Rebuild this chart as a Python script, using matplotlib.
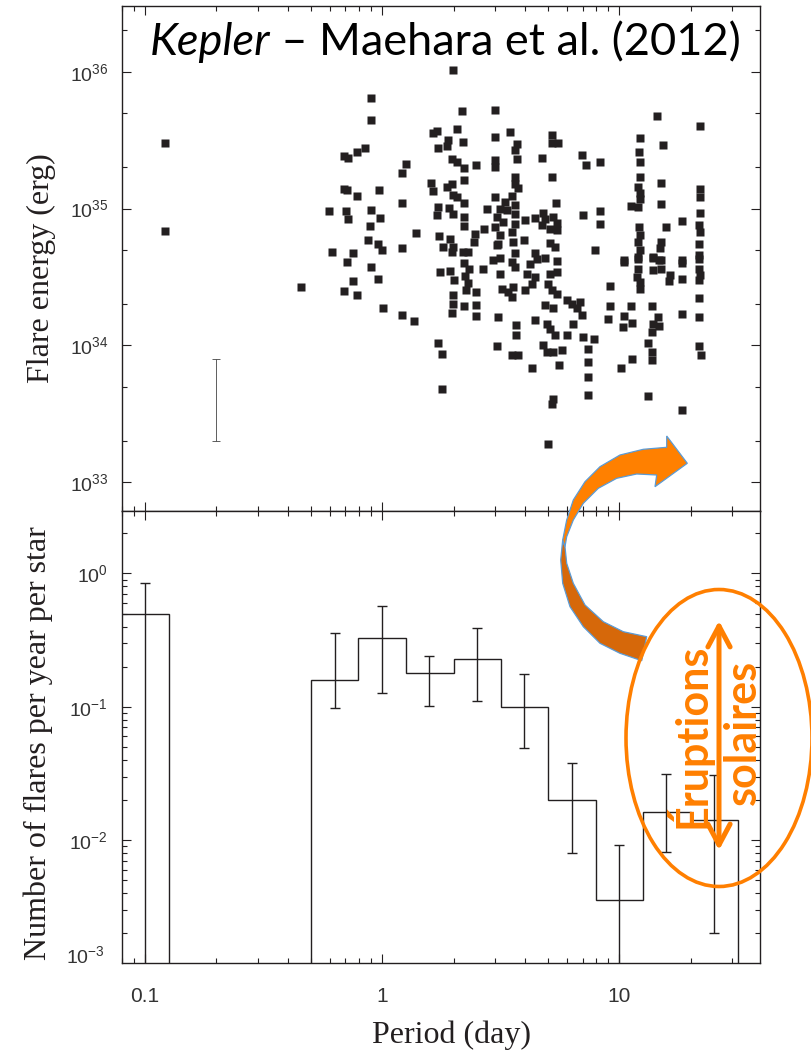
import numpy as np
import matplotlib
matplotlib.use("Agg")
import matplotlib.pyplot as plt
from matplotlib.patches import Polygon, Ellipse, FancyArrowPatch
from matplotlib.ticker import LogLocator, FuncFormatter, NullFormatter

# ---------------- data ----------------
# Top panel: flares, log10(period / day) and log10(energy / erg)
log_period = [
    -0.917, -0.917,
    -0.047, -0.047, -0.160, -0.146, -0.108, -0.072, 0.099, 0.085, 0.213, 0.233,
    -0.160, -0.149, -0.108, -0.012, 0.206, 0.214, -0.223, -0.153, -0.143, -0.047,
    -0.008, -0.052, 0.085, 0.143, -0.061, -0.016, 0.000, 0.085, -0.213, -0.125,
    -0.150, -0.047, -0.125, -0.016, -0.342, -0.160, -0.108, 0.005, 0.085, 0.136,
    0.300, 0.338, 0.476, 0.317, 0.539, 0.715, 0.237, 0.279, 0.272, 0.342, 0.476,
    0.567, 0.560, 0.715, 0.740, 0.570, 0.675, 0.841, 0.858, 0.293, 0.314, 0.346,
    0.394, 0.476, 0.476, 0.560, 0.560, 0.574, 0.715, 0.346, 0.272, 0.293, 0.300,
    0.314, 0.346, 0.237, 0.233, 0.282, 0.300, 0.346, 0.346, 0.441, 0.476, 0.549,
    0.518, 0.560, 0.497, 0.525, 0.560, 0.483, 0.511, 0.560, 0.476, 0.549, 0.497,
    0.490, 0.553, 0.602, 0.599, 0.431, 0.391, 0.389, 0.239, 0.286, 0.300, 0.293,
    0.258, 0.342, 0.363, 0.645, 0.676, 0.687, 0.722, 0.736, 0.673, 0.708, 0.736,
    0.732, 0.848, 0.708, 0.729, 0.483, 0.560, 0.645,
    0.244, 0.286, 0.347, 0.366, 0.349, 0.363, 0.352, 0.304, 0.300, 0.300, 0.296,
    0.346, 0.394, 0.394, 0.394, 0.426, 0.469, 0.497, 0.497, 0.504, 0.532, 0.553,
    0.549, 0.546, 0.560, 0.609, 0.624, 0.651, 0.645, 0.630, 0.602, 0.687, 0.736,
    0.708, 0.736, 0.701, 0.715, 0.736, 0.778, 0.799, 0.820, 0.834, 0.687, 0.722,
    0.841, 0.487, 0.564, 0.564, 0.645, 0.694, 0.708, 0.729, 0.778, 0.806, 0.848,
    0.237, 0.253, 0.483, 0.549, 0.574, 0.680, 0.694, 0.722, 0.757, 0.630, 0.746,
    0.251, 0.722, 0.715, 0.698,
    1.160, 1.340, 1.087, 1.186, 1.083, 1.087, 0.919, 1.087, 1.080, 1.087, 1.087,
    1.080, 1.049, 1.175, 1.175, 1.340, 1.340, 1.340, 0.919, 0.919, 1.263, 1.197,
    1.083, 1.087, 1.077, 1.334, 1.340, 1.175, 1.172, 1.334, 0.897, 1.087, 1.077,
    1.141, 1.168, 1.334, 1.021, 1.263,
    1.021, 1.080, 1.080, 1.073, 1.087, 1.087, 1.143, 1.175, 1.143, 1.175, 1.214,
    1.210, 1.263, 1.263, 1.334, 1.334, 1.341, 1.334, 0.961, 1.334, 0.961, 1.049,
    1.139, 0.954, 1.021, 1.017, 1.055, 1.165, 1.143, 1.167, 1.137, 1.263, 1.334,
    0.895, 0.867, 0.867, 0.867, 0.867, 1.123, 1.137, 1.137, 1.052, 1.007, 1.334,
    1.345, 1.123, 1.263,
]
log_energy = [
    35.480, 34.836,
    35.805, 35.646, 35.385, 35.373, 35.415, 35.444, 35.324, 35.261, 35.549, 35.568,
    35.146, 35.134, 35.090, 35.134, 35.188, 35.129, 34.980, 34.980, 34.927, 34.993,
    34.934, 34.873, 35.041, 34.822, 34.768, 34.739, 34.700, 34.712, 34.683, 34.676,
    34.610, 34.573, 34.468, 34.483, 34.424, 34.398, 34.371, 34.273, 34.220, 34.176,
    36.012, 35.712, 35.720, 35.583, 35.561, 35.537, 35.446, 35.500, 35.456, 35.485,
    35.520, 35.468, 35.427, 35.480, 35.476, 35.361, 35.373, 35.390, 35.320, 35.359,
    35.341, 35.293, 35.317, 35.354, 35.300, 35.232, 35.178, 35.151, 35.227, 35.207,
    35.159, 35.183, 35.098, 35.085, 35.044, 35.012, 34.951, 35.005, 34.959, 34.939,
    34.873, 35.000, 35.085, 35.090, 35.049, 35.024, 35.000, 34.988, 34.963, 34.939,
    34.902, 34.890, 34.866, 34.829, 34.805, 34.744, 34.756, 34.915, 34.768, 34.854,
    34.817, 34.756, 34.800, 34.780, 34.720, 34.683, 34.720, 34.683, 34.683, 34.932,
    34.968, 34.920, 34.939, 34.895, 34.878, 34.854, 34.841, 35.041, 34.951, 34.749,
    34.720, 34.732, 34.676, 34.676,
    34.537, 34.541, 34.605, 34.561, 34.507, 34.459, 34.402, 34.476, 34.366, 34.305,
    34.239, 34.285, 34.390, 34.293, 34.212, 34.561, 34.622, 34.639, 34.520, 34.415,
    34.390, 34.427, 34.354, 34.610, 34.573, 34.524, 34.598, 34.629, 34.500, 34.451,
    34.407, 34.639, 34.615, 34.524, 34.537, 34.451, 34.402, 34.378, 34.329, 34.305,
    34.273, 34.317, 34.293, 34.273, 34.220, 34.207, 34.151, 34.073, 34.183, 34.159,
    34.117, 34.073, 34.073, 34.154, 34.061, 34.020, 33.934, 33.995, 33.932, 33.932,
    34.000, 33.951, 33.951, 33.968, 33.834, 33.854, 33.683, 33.610, 33.573, 33.280,
    35.676, 35.602, 35.517, 35.463, 35.415, 35.341, 35.337, 35.232, 35.159, 35.110,
    35.073, 35.012, 35.020, 35.188, 35.032, 35.146, 35.085, 34.971, 34.983, 34.885,
    34.907, 34.866, 34.866, 34.805, 34.756, 34.878, 34.829, 34.756, 34.715, 34.744,
    34.695, 34.695, 34.646, 34.646, 34.627, 34.659, 34.627, 34.622,
    34.610, 34.634, 34.561, 34.500, 34.463, 34.415, 34.639, 34.622, 34.549, 34.561,
    34.512, 34.468, 34.605, 34.488, 34.634, 34.561, 34.512, 34.476, 34.434, 34.349,
    34.288, 34.288, 34.288, 34.195, 34.212, 34.134, 34.166, 34.207, 34.159, 34.141,
    34.098, 34.232, 34.207, 34.049, 33.976, 33.878, 33.768, 33.639, 34.017, 33.951,
    33.890, 33.902, 33.837, 33.993, 33.927, 33.629, 33.529,
]
# Typical error bar drawn in the top panel
typical_err_period = 0.2
typical_err_energy = 5.0e33
typical_err_low = 2.0e33
typical_err_high = 8.0e33

# Bottom panel: histogram of flare frequency
hist_edges_a = [0.0794, 0.126]
hist_values_a = [0.494]
hist_edges_b = [0.501, 0.794, 1.26, 2.00, 3.16, 5.01, 7.94, 12.6, 20.0, 31.6]
hist_values_b = [0.159, 0.330, 0.180, 0.227, 0.100, 0.020, 0.00356, 0.0164, 0.0141]
err_centers = [0.1, 0.63, 1.0, 1.58, 2.51, 3.98, 6.31, 10.0, 15.8, 25.1]
err_values = [0.494, 0.159, 0.330, 0.180, 0.227, 0.100, 0.020, 0.00356, 0.0164, 0.0141]
err_high = [0.843, 0.355, 0.566, 0.240, 0.389, 0.175, 0.038, 0.0092, 0.0316, 0.031]
err_low = [1e-9, 0.0985, 0.127, 0.102, 0.111, 0.049, 0.0080, 1e-9, 0.0082, 0.00203]

x_tick_labels = ["0.1", "1", "10"]

# ---------------- figure ----------------
W, H = 811, 1053
fig = plt.figure(figsize=(W / 100, H / 100), dpi=100)
INK = "#231f20"
ORANGE = "#ff7f00"


def fx(x):
    return x / W


def fy(y):
    return 1 - y / H


ax1 = fig.add_axes([fx(122), fy(511), (760 - 122) / W, (511 - 6) / H])
ax2 = fig.add_axes([fx(122), fy(963), (760 - 122) / W, (963 - 511) / H])

period = 10 ** np.array(log_period)
energy = 10 ** np.array(log_energy)
ax1.plot(period, energy, "s", ms=5.2, color=INK, mec="none", zorder=3)
ax1.errorbar([typical_err_period], [typical_err_energy],
             yerr=[[typical_err_energy - typical_err_low],
                   [typical_err_high - typical_err_energy]],
             fmt="none", ecolor="#444444", elinewidth=0.6, capsize=3.2, capthick=0.6)

ax2.stairs(hist_values_a, hist_edges_a, baseline=1e-9, color=INK, lw=1.0)
ax2.stairs(hist_values_b, hist_edges_b, baseline=1e-9, color=INK, lw=1.0)
ev = np.array(err_values)
ax2.errorbar(err_centers, ev, yerr=[ev - np.array(err_low), np.array(err_high) - ev],
             fmt="none", ecolor=INK, elinewidth=1.0, capsize=3.6, capthick=1.0)

for ax in (ax1, ax2):
    ax.set_xscale("log")
    ax.set_yscale("log")
    ax.set_xlim(0.0799, 39.2)
    for s in ax.spines.values():
        s.set_linewidth(1.0)
        s.set_color(INK)
    ax.tick_params(which="both", direction="in", top=True, right=True,
                   color=INK, width=0.8)
    ax.tick_params(which="major", length=6.5)
    ax.tick_params(which="minor", length=3.3)
    ax.xaxis.set_major_locator(LogLocator(base=10, numticks=10))
    ax.xaxis.set_minor_locator(LogLocator(base=10, subs=np.arange(2, 10), numticks=10))
    ax.xaxis.set_minor_formatter(NullFormatter())
    ax.yaxis.set_minor_formatter(NullFormatter())

ax1.set_ylim(10 ** 32.79, 10 ** 36.48)
ax2.set_ylim(1.2e-3, 2.94)
ax1.yaxis.set_major_locator(LogLocator(base=10, numticks=10))
ax1.yaxis.set_minor_locator(LogLocator(base=10, subs=(2.0, 5.0), numticks=10))
ax2.yaxis.set_major_locator(LogLocator(base=10, numticks=10))
ax2.yaxis.set_minor_locator(LogLocator(base=10, subs=np.arange(2, 10), numticks=10))

YT = dict(family="Liberation Sans", size=14, color="#333333")
XT = dict(family="Liberation Sans", size=15, color="#333333")
pow_fmt = FuncFormatter(lambda v, p: r"$\mathregular{10^{%d}}$" % round(np.log10(v)))
ax1.yaxis.set_major_formatter(pow_fmt)
ax2.yaxis.set_major_formatter(pow_fmt)
ax1.xaxis.set_major_formatter(NullFormatter())
ax2.xaxis.set_major_formatter(FuncFormatter(
    lambda v, p: {0.1: x_tick_labels[0], 1.0: x_tick_labels[1], 10.0: x_tick_labels[2]}.get(round(v, 3), "")))
for ax in (ax1, ax2):
    for lab in ax.get_yticklabels():
        lab.set_fontfamily(YT["family"])
        lab.set_fontsize(YT["size"])
        lab.set_color(YT["color"])
    for lab in ax.get_xticklabels():
        lab.set_fontfamily(XT["family"])
        lab.set_fontsize(XT["size"])
        lab.set_color(XT["color"])
ax1.tick_params(axis="y", pad=10)
ax2.tick_params(axis="y", pad=10)
ax2.tick_params(axis="x", pad=17)
# label of the 10^-3 decade sitting at the lower edge
ax2.text(-0.027, 0.015, r"$\mathregular{10^{-3}}$", transform=ax2.transAxes,
         ha="right", va="center", fontfamily=YT["family"], fontsize=YT["size"], color=YT["color"])

serif = "Liberation Serif"
fig.text(fx(41), fy(268), "Flare energy (erg)", rotation=90, ha="center", va="center",
         fontfamily=serif, fontsize=23, color=INK)
fig.text(fx(38), fy(743), "Number of flares per year per star", rotation=90, ha="center",
         va="center", fontfamily=serif, fontsize=23, color=INK)
fig.text(fx(452), fy(1035), "Period (day)", ha="center", va="center",
         fontfamily=serif, fontsize=23, color=INK)

# ---------------- title ----------------
t1 = fig.text(fx(150), fy(55), "Kepler", style="italic", fontfamily="Lato",
              fontsize=32.5, va="baseline", ha="left", color="black")
fig.canvas.draw()
bb = t1.get_window_extent()
fig.text(bb.x1 / W, fy(55), " \u2013 Maehara et al. (2012)", fontfamily="Lato",
         fontsize=32.5, va="baseline", ha="left", color="black")

# ---------------- orange annotations ----------------
def poly(points, **kw):
    pts = [(fx(x), fy(y)) for x, y in points]
    p = Polygon(pts, closed=True, transform=fig.transFigure, **kw)
    fig.add_artist(p)
    return p

dark_band = [(641.7, 660.7), (620, 653.3), (600, 643.3), (583.3, 626.7), (570, 606.7),
             (562.7, 583.3), (560.7, 560), (562.7, 540), (565, 546.7), (566.7, 563.3),
             (573.3, 583.3), (585, 605), (603.3, 621.7), (623.3, 631.7), (646.7, 636.7)]
poly(dark_band, fc="#d6680a", ec="#5b9bd5", lw=0.9, zorder=5)
bright_band = [(562.7, 540), (566.7, 520), (573.3, 500), (585, 481.7), (600, 466.7),
               (620, 455), (643.3, 449.3), (666.7, 447.3), (666.7, 436), (687.3, 463.3),
               (655, 486.7), (656.7, 475), (636.7, 474), (616.7, 478.3), (598.3, 488.3),
               (583.3, 503.3), (573.3, 520), (566.7, 536.7), (565, 546.7)]
poly(bright_band, fc="#ff8000", ec="#5b9bd5", lw=0.9, zorder=6)

ell = Ellipse((fx(719), fy(738)), width=186 / W, height=297 / H, transform=fig.transFigure,
              fill=False, ec=ORANGE, lw=2.6, zorder=7)
fig.add_artist(ell)
arr = FancyArrowPatch((fx(719), fy(853)), (fx(719), fy(618)), transform=fig.transFigure,
                      arrowstyle="<->,head_length=15,head_width=8", mutation_scale=1,
                      color=ORANGE, lw=3.6, zorder=8)
fig.add_artist(arr)
fig.text(fx(688), fy(736), "\u00c9ruptions", rotation=90, ha="center", va="center",
         fontfamily="Lato", fontweight="bold", fontsize=31, color=ORANGE, zorder=9)
fig.text(fx(743), fy(732), "solaires", rotation=90, ha="center", va="center",
         fontfamily="Lato", fontweight="bold", fontsize=31, color=ORANGE, zorder=9)

fig.savefig("out.png", dpi=100)
